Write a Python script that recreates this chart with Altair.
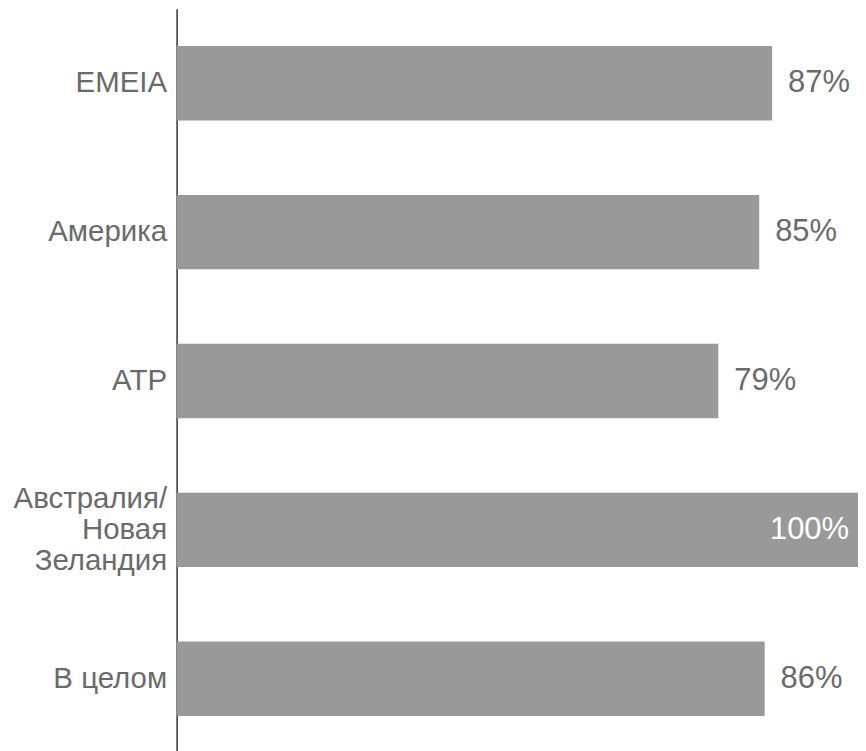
import altair as alt
import pandas as pd

regions = ["EMEIA", "Америка", "ATP", "Австралия/\nНовая\nЗеландия", "В целом"]
values = [0.874, 0.855, 0.795, 1.00, 0.863]
labels = ["87%", "85%", "79%", "100%", "86%"]
inside = [False, False, False, True, False]

df = pd.DataFrame({"region": regions, "value": values, "label": labels, "inside": inside})

FONT = "Liberation Sans"
TXT = "#6a6a6a"

y = alt.Y("region:N", sort=regions,
          scale=alt.Scale(paddingInner=0.5, paddingOuter=0.25),
          axis=alt.Axis(title=None, ticks=False, grid=False, domain=True,
                        domainColor="#333333", domainWidth=1.5,
                        labelFont=FONT, labelFontSize=29.5, labelColor=TXT,
                        labelPadding=10, labelLineHeight=31,
                        labelLimit=300,
                        labelOffset={"condition": {"test": "indexof(datum.value, '\\n') >= 0", "value": -31}, "value": 0},
                        labelExpr="split(datum.label, '\\n')"))
x = alt.X("value:Q", scale=alt.Scale(domain=[0, 1], nice=False), axis=None)

base = alt.Chart(df)
bars = base.mark_bar(color="#999999").encode(x=x, y=y)
out = base.transform_filter("!datum.inside").mark_text(
    align="left", baseline="middle", dx=16, font=FONT, fontSize=31, color=TXT
).encode(x=x, y=alt.Y("region:N", sort=regions), text="label:N")
ins = base.transform_filter("datum.inside").mark_text(
    align="right", baseline="middle", dx=-9, font=FONT, fontSize=31, color="#ffffff"
).encode(x=x, y=alt.Y("region:N", sort=regions), text="label:N")

chart = alt.layer(bars, out, ins).properties(
    width=683, height=746,
    autosize=alt.AutoSizeParams(type="none"),
    padding={"left": 169, "top": 0, "right": 0, "bottom": 0},
).configure_view(stroke=None)

chart.save("out.html", embed_options={"renderer": "svg", "actions": False})
